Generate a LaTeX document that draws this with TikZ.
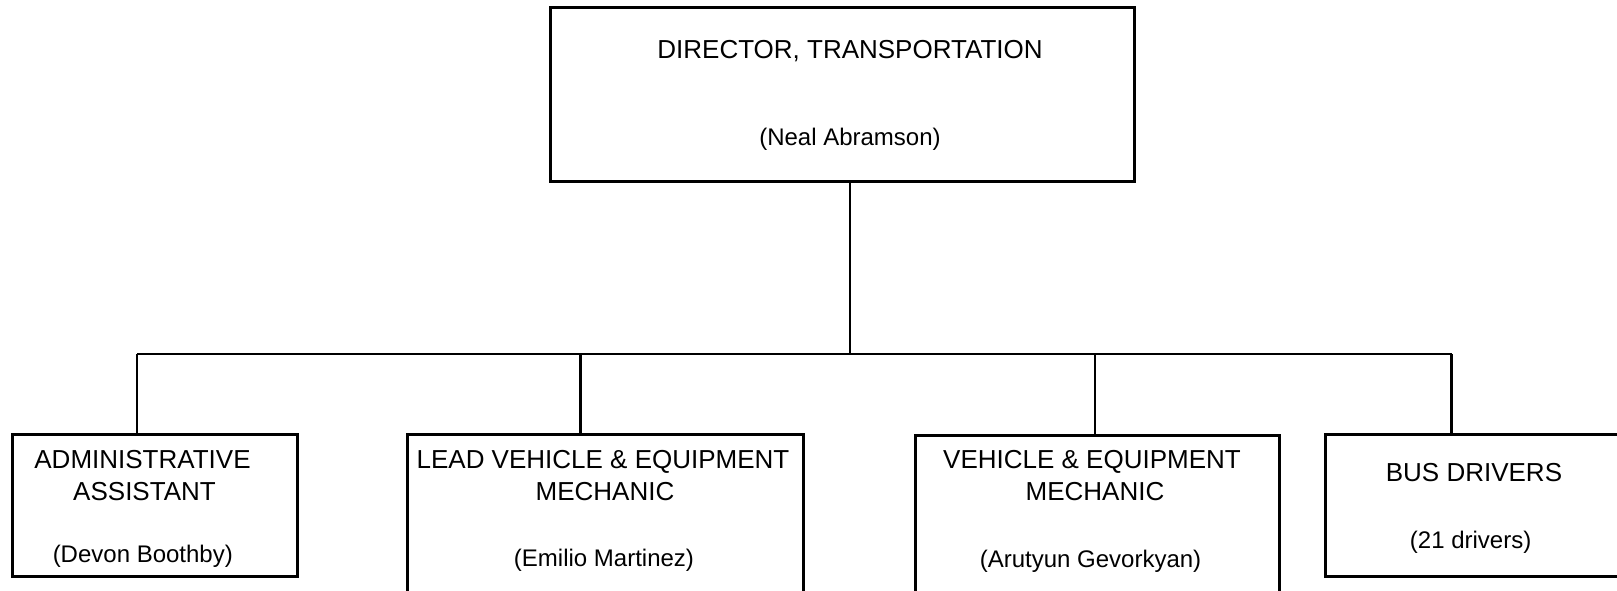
\documentclass[tikz,border=0pt]{standalone}
\usepackage{fontspec}
\setmainfont{Liberation Sans}
\begin{document}
\begin{tikzpicture}[x=1pt,y=-1pt,
  box/.style={draw, line width=2.5pt, rectangle, inner sep=0pt, anchor=north west},
  captxt/.style={inner sep=0pt, anchor=base, font=\fontsize{26}{30}\selectfont},
  nmtxt/.style={inner sep=0pt, anchor=base, font=\fontsize{24}{28}\selectfont},
  conn/.style={draw, line width=2.3pt}]
\useasboundingbox (0,0) rectangle (1617,590);
\clip (0,0) rectangle (1617,590);
% boxes
\node[box, minimum width=584pt, minimum height=174pt] (dir) at (549,6) {};
\node[box, minimum width=285pt, minimum height=142pt] (b1) at (11,433) {};
\node[box, minimum width=396pt, minimum height=180pt] (b2) at (406,433) {};
\node[box, minimum width=364pt, minimum height=180pt] (b3) at (914,434) {};
\node[box, minimum width=320pt, minimum height=142pt] (b4) at (1324,433) {};
% texts
\node[captxt] (t0a) at (850,58.3) {DIRECTOR, TRANSPORTATION};
\node[nmtxt]  (t0b) at (850,145.2) {(Neal Abramson)};
\node[captxt] (t1a) at (142.5,468.8) {ADMINISTRATIVE};
\node[captxt] (t1b) at (144.5,500.8) {ASSISTANT};
\node[nmtxt]  (t1c) at (142.8,562) {(Devon Boothby)};
\node[captxt] (t2a) at (603,468.8) {LEAD VEHICLE \& EQUIPMENT};
\node[captxt] (t2b) at (605,500.8) {MECHANIC};
\node[nmtxt]  (t2c) at (604,566) {(Emilio Martinez)};
\node[captxt] (t3a) at (1092,468.8) {VEHICLE \& EQUIPMENT};
\node[captxt] (t3b) at (1095,500.8) {MECHANIC};
\node[nmtxt]  (t3c) at (1090.5,567) {(Arutyun Gevorkyan)};
\node[captxt] (t4a) at (1474,481.8) {BUS DRIVERS};
\node[nmtxt]  (t4b) at (1470.6,548) {(21 drivers)};
% connectors
\coordinate (j0) at (850,354);
\coordinate (d1) at (137,354);
\coordinate (d2) at (580.6,354);
\coordinate (d3) at (1095,354);
\coordinate (d4) at (1451.5,354);
\draw[conn] (dir.south -| j0) -- (j0);
\draw[conn] (d1) -- (d4);
\draw[conn] (d1) -- (d1 |- b1.north);
\draw[conn] (d2) -- (d2 |- b2.north);
\draw[conn] (d3) -- (d3 |- b3.north);
\draw[conn] (d4) -- (d4 |- b4.north);
\end{tikzpicture}
\end{document}
